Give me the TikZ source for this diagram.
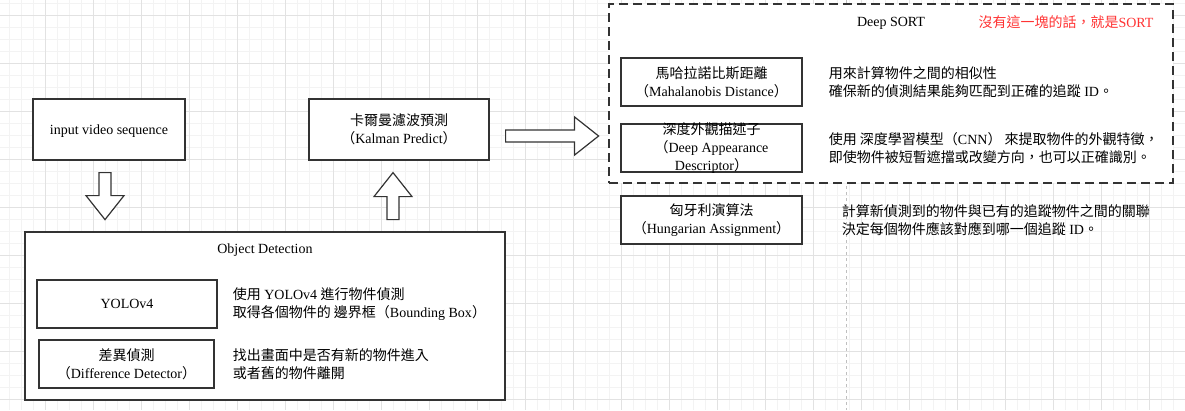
\documentclass[tikz,border=0pt]{standalone}
\usepackage{fontspec}
\setmainfont{Liberation Serif}
\newfontfamily\tcfont{Noto Sans CJK TC}
\usetikzlibrary{calc,positioning}
\definecolor{GridMinor}{HTML}{F3F3F3}
\definecolor{GridMajor}{HTML}{E2E2E2}
\definecolor{BoxLine}{HTML}{333333}
\definecolor{NoteRed}{HTML}{FF3333}
\newcommand{\zh}[1]{{\tcfont #1}}
\newcommand{\boxfont}{\fontsize{14pt}{18pt}\selectfont}
\tikzset{
  tbox/.style={draw=BoxLine,line width=1.2pt,fill=white,inner sep=0pt,
    minimum height=48pt,align=center,font=\boxfont},
  container/.style={draw=BoxLine,line width=1.2pt,fill=white,inner sep=0pt},
  desc/.style={inner sep=0pt,align=left,font=\boxfont},
  caption/.style={inner sep=0pt,font=\boxfont,text depth=0pt},
  gridminor/.style={draw=GridMinor,line width=1pt},
  gridmajor/.style={draw=GridMajor,line width=1pt},
  pagebreak/.style={draw=black!25,line width=1pt,dash pattern=on 3pt off 3pt},
  arrowline/.style={draw=BoxLine,line width=1.2pt,fill=white,line join=miter},
  pics/blockarrow/.style={code={
    \draw[arrowline] (0,-6) -- (#1-24,-6) -- (#1-24,-19) -- (#1,0)
      -- (#1-24,19) -- (#1-24,6) -- (0,6) -- cycle;}}
}

\begin{document}
\begin{tikzpicture}[x=1pt,y=-1pt]
  \useasboundingbox (0,0) rectangle (1185,410);
  % background grid
  \foreach \gx in {9,21,...,1185} \draw[gridminor] (\gx,0) -- (\gx,410);
  \foreach \gy in {3,15,...,410} \draw[gridminor] (0,\gy) -- (1185,\gy);
  \foreach \gx in {45,93,...,1185} \draw[gridmajor] (\gx,0) -- (\gx,410);
  \foreach \gy in {15,63,...,410} \draw[gridmajor] (0,\gy) -- (1185,\gy);
  \draw[pagebreak] (846,0) -- (846,410);

  % containers
  \node[container,minimum width=480pt,minimum height=168pt] (objdet) at (265,316) {};
  \node[caption] (objtitle) at (265,249) {Object Detection};
  \node[container,dash pattern=on 9pt off 5pt,minimum width=564pt,minimum height=179pt] (deepsort) at (891,93.5) {};
  \node[caption] (sorttitle) at (891,22) {Deep SORT};
  \node[caption,text=NoteRed] (note) at (1066,22) {\zh{沒有這一塊的話，就是}SORT};

  % left column
  \node[tbox,text depth=0pt,minimum width=152pt,minimum height=61pt] (input) at (109,129.5) {input video sequence};
  \node[tbox,minimum width=180pt,minimum height=61pt] (kalman) at (399,129.5)
    {\zh{卡爾曼濾波預測}\\\zh{（}Kalman Predict\zh{）}};
  \node[tbox,minimum width=180pt] (yolo) at (127,304) {YOLOv4};
  \node[tbox,minimum width=175pt] (diff) at (126.5,364)
    {\zh{差異偵測}\\\zh{（}Difference Detector\zh{）}};
  \node[desc,right=15pt of yolo] (yolodesc)
    {\zh{使用} YOLOv4 \zh{進行物件偵測}\\\zh{取得各個物件的 邊界框（}Bounding Box\zh{）}};
  \node[desc,right=18pt of diff] (diffdesc)
    {\zh{找出畫面中是否有新的物件進入}\\\zh{或者舊的物件離開}};

  % deep sort parts
  \node[tbox,minimum width=181pt] (maha) at (711.5,82)
    {\zh{馬哈拉諾比斯距離}\\\zh{（}Mahalanobis Distance\zh{）}};
  \node[tbox,minimum width=181pt] (appear) at (711.5,148) {};
  \node[caption,align=center,text depth=] (appeartext) at (appear.center)
    {\zh{深度外觀描述子}\\\zh{（}Deep Appearance\\Descriptor\zh{）}};
  \node[tbox,minimum width=181pt] (hung) at (711.5,220)
    {\zh{匈牙利演算法}\\\zh{（}Hungarian Assignment\zh{）}};
  \node[desc,right=26pt of maha] (mahadesc)
    {\zh{用來計算物件之間的相似性}\\\zh{確保新的偵測結果能夠匹配到正確的追蹤} ID\zh{。}};
  \node[desc,right=26pt of appear] (appeardesc)
    {\zh{使用 深度學習模型（}CNN\zh{） 來提取物件的外觀特徵，}\\\zh{即使物件被短暫遮擋或改變方向，也可以正確識別。}};
  \node[desc,right=39pt of hung] (hungdesc)
    {\zh{計算新偵測到的物件與已有的追蹤物件之間的關聯}\\\zh{決定每個物件應該對應到哪一個追蹤} ID\zh{。}};

  % block arrows
  \pic[rotate=-90] at ($(input.south)+(-4,12)$) {blockarrow=47};
  \pic[rotate=90] at ($(kalman.south)+(-6,59)$) {blockarrow=47};
  \pic at ($(kalman.east)+(16,6.5)$) {blockarrow=93};
\end{tikzpicture}
\end{document}
